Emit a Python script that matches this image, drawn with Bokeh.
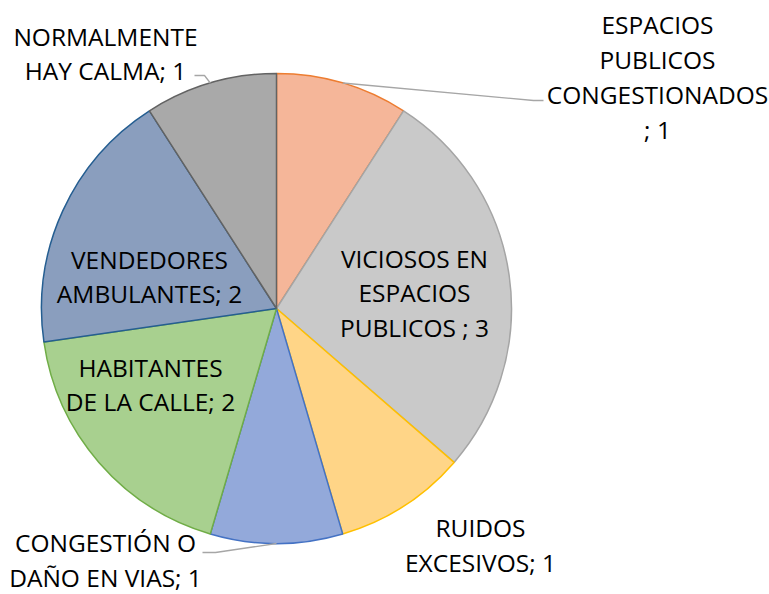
import math
from bokeh.plotting import figure
from bokeh.models import Range1d, ColumnDataSource
from bokeh.core.properties import value
from bokeh.embed import file_html
from bokeh.resources import INLINE

# ---- data ----
categories = ["ESPACIOS PUBLICOS CONGESTIONADOS ", "VICIOSOS EN ESPACIOS PUBLICOS ",
              "RUIDOS EXCESIVOS", "CONGESTIÓN O DAÑO EN VIAS", "HABITANTES DE LA CALLE",
              "VENDEDORES AMBULANTES", "NORMALMENTE HAY CALMA"]
values = [1, 3, 1, 1, 2, 2, 1]
label_texts = ["ESPACIOS\nPUBLICOS\nCONGESTIONADOS\n; 1",
               "VICIOSOS EN\nESPACIOS\nPUBLICOS ; 3",
               "RUIDOS\nEXCESIVOS; 1",
               "CONGESTIÓN O\nDAÑO EN VIAS; 1",
               "HABITANTES\nDE LA CALLE; 2",
               "VENDEDORES\nAMBULANTES; 2",
               "NORMALMENTE\nHAY CALMA; 1"]

# ---- style / layout ----
fills = ["#F5B699", "#C9C9C9", "#FFD587", "#93A9DA", "#A8D08F", "#8A9EBE", "#A9A9A9"]
edges = ["#ED7D31", "#A5A5A5", "#FFC000", "#4472C4", "#70AD47", "#255E91", "#636363"]
label_pos = [(657, 76.5), (414, 292.5), (480, 544.5), (105, 559.5), (150, 384), (149, 276), (105, 53)]
W, H = 769, 594
CX, CY, R = 276, 308, 235

def Y(y):
    return H - y

p = figure(width=W, height=H, output_backend="svg", toolbar_location=None,
           x_range=Range1d(0, W), y_range=Range1d(0, H),
           min_border=0, outline_line_color=None)
p.axis.visible = False
p.grid.visible = False

total = sum(values)
starts, ends, mids = [], [], []
cum = 0
for v in values:
    a0 = math.pi / 2 - 2 * math.pi * cum / total
    cum += v
    a1 = math.pi / 2 - 2 * math.pi * cum / total
    starts.append(a0)
    ends.append(a1)
    mids.append((a0 + a1) / 2)

src = ColumnDataSource(dict(start=starts, end=ends, fill=fills, edge=edges))
p.wedge(x=CX, y=Y(CY), radius=R, start_angle="start", end_angle="end",
        direction="clock", fill_color="fill", line_color="edge", line_width=1.5,
        source=src)

# leader lines for outside labels (indices 0, 3, 6)
def edge_pt(i):
    return CX + R * math.cos(mids[i]), Y(CY) + R * math.sin(mids[i])

lead_color = "#A6A6A6"
x0, y0 = edge_pt(0)
p.line([x0, 533, 543], [y0, Y(100), Y(100)], line_color=lead_color, line_width=1.3)
x3, y3 = edge_pt(3)
p.line([x3, 215, 202], [y3, Y(552), Y(552)], line_color=lead_color, line_width=1.3)
x6, y6 = edge_pt(6)
p.line([x6, 204, 194], [y6, Y(75), Y(75)], line_color=lead_color, line_width=1.3)

lsrc = ColumnDataSource(dict(x=[lp[0] for lp in label_pos], y=[Y(lp[1]) for lp in label_pos],
                             t=label_texts))
p.text(x="x", y="y", text="t", source=lsrc, text_align="center", text_baseline="middle",
       text_font=value("Open Sans"), text_font_size="24.5px", text_color="#000000",
       text_line_height=1.06)

open("out.html", "w").write(file_html(p, INLINE))
